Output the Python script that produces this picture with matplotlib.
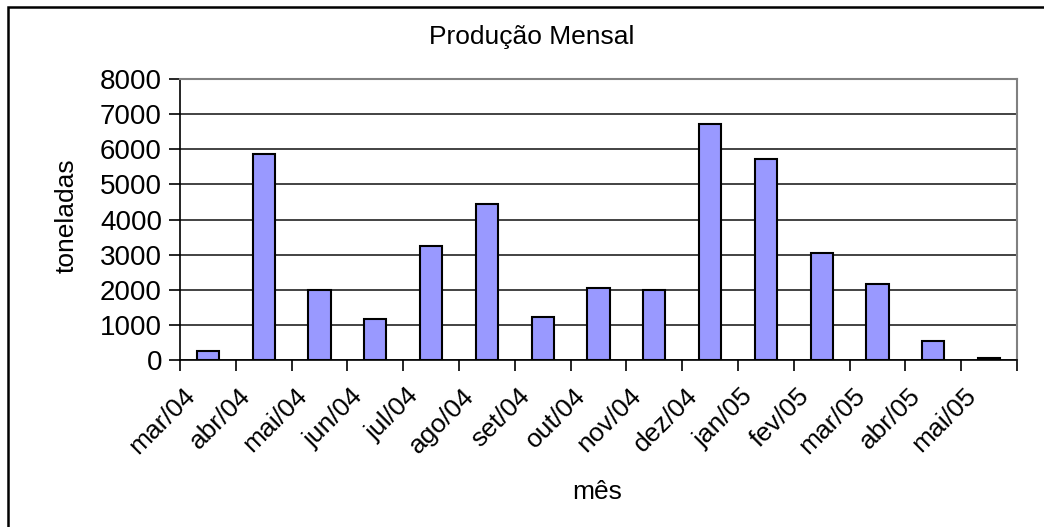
import matplotlib

matplotlib.use("Agg")
import matplotlib.pyplot as plt
import matplotlib.transforms as mtransforms
from matplotlib.patches import Rectangle

plt.rcParams["font.family"] = ["Liberation Sans", "DejaVu Sans"]

months = ["mar/04", "abr/04", "mai/04", "jun/04", "jul/04", "ago/04", "set/04", "out/04",
          "nov/04", "dez/04", "jan/05", "fev/05", "mar/05", "abr/05", "mai/05"]
tons = [250, 5860, 1980, 1160, 3250, 4440, 1210, 2050,
        1980, 6730, 5720, 3060, 2160, 530, 60]
y_ticks = [0, 1000, 2000, 3000, 4000, 5000, 6000, 7000, 8000]

W, H = 1044, 527
fig = plt.figure(figsize=(W / 100, H / 100), dpi=100)
ax = fig.add_axes([180 / W, 1 - 360 / H, (1017 - 180) / W, (360 - 79) / H])

x = list(range(len(months)))
ax.bar(x, tons, width=0.4, color="#9999FF", edgecolor="black", linewidth=1.5, zorder=3)

ax.set_xlim(-0.5, len(months) - 0.5)
ax.set_ylim(0, 8000)
ax.set_yticks(y_ticks)
ax.set_yticklabels([str(v) for v in y_ticks], fontsize=20)
ax.yaxis.grid(True, color="#222222", linewidth=1.2, zorder=0)

ax.set_xticks(x)
ax.set_xticklabels(months, rotation=45, ha="right", va="top", rotation_mode="anchor", fontsize=19)
ax.tick_params(axis="x", length=0, pad=12)
ax.set_xticks([i - 0.5 for i in range(len(months) + 1)], minor=True)
ax.tick_params(axis="x", which="minor", length=8, width=1.2, direction="out")
ax.tick_params(axis="y", length=8, width=1.2, direction="out", pad=5)

# nudge the slanted month labels like Excel places them
shift = mtransforms.ScaledTranslation(-25 / 100, -7 / 100, fig.dpi_scale_trans)
for lbl in ax.get_xticklabels():
    lbl.set_transform(lbl.get_transform() + shift)

for side in ("top", "right"):
    ax.spines[side].set_color("#808080")
    ax.spines[side].set_linewidth(1.5)
for side in ("left", "bottom"):
    ax.spines[side].set_color("black")
    ax.spines[side].set_linewidth(1.2)

fig.text(67 / W, 1 - 216 / H, "toneladas", fontsize=19, rotation=90, ha="center", va="center")
fig.text(597 / W, 1 - 492 / H, "mês", fontsize=19, ha="center", va="center")
fig.text(532 / W, 1 - 37 / H, "Produção Mensal", fontsize=19, ha="center", va="center")

# chart-area border (right/bottom run off the image)
fig.patches.append(Rectangle((8 / W, -0.1), 1.2, 1 - 7 / H + 0.1, transform=fig.transFigure,
                             fill=False, edgecolor="black", linewidth=1.8))

fig.savefig("out.png", dpi=100)
